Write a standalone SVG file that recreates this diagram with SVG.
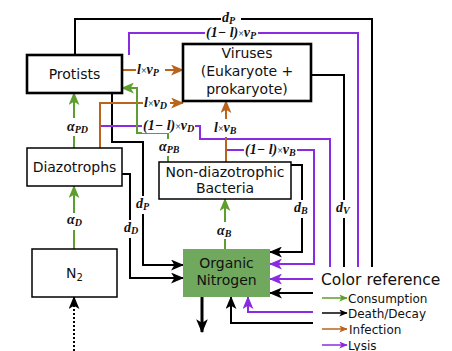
<svg xmlns="http://www.w3.org/2000/svg" width="452" height="351" viewBox="0 0 452 351">
<style>
.box{fill:#fff;stroke:#000;stroke-width:1.5}
.thick{stroke-width:2.6}
.t{font-family:"DejaVu Sans",sans-serif;font-size:14px;text-anchor:middle;fill:#111}
.c{fill:none;stroke-width:2}
.k{stroke:#000}
.p{stroke:#8a2be2}
.o{stroke:#b8641c}
.g{stroke:#5e9e2e}
.m{font-family:"Liberation Serif","DejaVu Serif",serif;font-weight:bold;font-style:italic;font-size:14px;fill:#111}
.s{font-size:10px}
.x{font-style:normal;font-weight:normal;font-size:10px}
.bg{fill:#fff}
.lg{font-family:"DejaVu Sans",sans-serif;font-size:12px;fill:#111}
</style>
<defs>
<marker id="ak" viewBox="0 0 12 10" refX="11" refY="5" markerWidth="13" markerHeight="11" markerUnits="userSpaceOnUse" orient="auto"><path d="M0,0 L12,5 L0,10 L3,5 z" fill="#000"/></marker>
<marker id="ap" viewBox="0 0 12 10" refX="11" refY="5" markerWidth="13" markerHeight="11" markerUnits="userSpaceOnUse" orient="auto"><path d="M0,0 L12,5 L0,10 L3,5 z" fill="#8a2be2"/></marker>
<marker id="ao" viewBox="0 0 12 10" refX="11" refY="5" markerWidth="13" markerHeight="11" markerUnits="userSpaceOnUse" orient="auto"><path d="M0,0 L12,5 L0,10 L3,5 z" fill="#b8641c"/></marker>
<marker id="ag" viewBox="0 0 12 10" refX="11" refY="5" markerWidth="13" markerHeight="11" markerUnits="userSpaceOnUse" orient="auto"><path d="M0,0 L12,5 L0,10 L3,5 z" fill="#5e9e2e"/></marker>
<marker id="abig" viewBox="0 0 12 10" refX="11" refY="5" markerWidth="14" markerHeight="14" markerUnits="userSpaceOnUse" orient="auto"><path d="M0,0 L12,5 L0,10 L3,5 z" fill="#000"/></marker>
<marker id="lk" viewBox="0 0 12 10" refX="11" refY="5" markerWidth="9" markerHeight="7" markerUnits="userSpaceOnUse" orient="auto"><path d="M0,0 L12,5 L0,10 L3,5 z" fill="#000"/></marker>
<marker id="lp" viewBox="0 0 12 10" refX="11" refY="5" markerWidth="9" markerHeight="7" markerUnits="userSpaceOnUse" orient="auto"><path d="M0,0 L12,5 L0,10 L3,5 z" fill="#8a2be2"/></marker>
<marker id="lo" viewBox="0 0 12 10" refX="11" refY="5" markerWidth="9" markerHeight="7" markerUnits="userSpaceOnUse" orient="auto"><path d="M0,0 L12,5 L0,10 L3,5 z" fill="#b8641c"/></marker>
<marker id="lg" viewBox="0 0 12 10" refX="11" refY="5" markerWidth="9" markerHeight="7" markerUnits="userSpaceOnUse" orient="auto"><path d="M0,0 L12,5 L0,10 L3,5 z" fill="#5e9e2e"/></marker>
</defs>
<rect width="452" height="351" fill="#fff"/>

<g id="connectors">
  <!-- black death/decay -->
  <path class="c k" d="M75,55 V19 H372 V267"/>
  <path class="c k" d="M311,75 H344 V267"/>
  <path class="c k" d="M112,93 V142 H143 V265 H183" marker-end="url(#ak)"/>
  <path class="c k" d="M122,174 H130 V278 H183" marker-end="url(#ak)"/>
  <path class="c k" d="M291,165 H302 V252 H270" marker-end="url(#ak)"/>
  <path class="c k" d="M313,293 H270" marker-end="url(#ak)"/>
  <path class="c k" d="M313,323 H231 V297" marker-end="url(#ak)"/>
  <path class="c k" d="M202,297 V332" style="stroke-width:3" marker-end="url(#abig)"/>
  <path class="c k" d="M74,351 V297" style="stroke-dasharray:2,2" marker-end="url(#ak)"/>
  <!-- purple lysis -->
  <path class="c p" d="M129,55 V33 H358 V267"/>
  <path class="c p" d="M101,126 H200 V139 H330 V267"/>
  <path class="c p" d="M226,150 H314 V264 H270" marker-end="url(#ap)"/>
  <path class="c p" d="M313,279 H270" marker-end="url(#ap)"/>
  <path class="c p" d="M313,312 H248 V297" marker-end="url(#ap)"/>
  <!-- orange infection -->
  <path class="c o" d="M122,70 H183" marker-end="url(#ao)"/>
  <path class="c o" d="M100,148 V103 H183" marker-end="url(#ao)"/>
  <path class="c o" d="M226,162 V101" marker-end="url(#ao)"/>
  <!-- green consumption -->
  <path class="c g" d="M74,249 V186" marker-end="url(#ag)"/>
  <path class="c g" d="M74,148 V93" marker-end="url(#ag)"/>
  <path class="c g" d="M168,162 V133 H137 V88 H122" marker-end="url(#ag)"/>
  <path class="c g" d="M225,249 V199" marker-end="url(#ag)"/>

  <!-- labels -->
  <rect class="bg" x="221" y="11" width="20" height="16"/>
  <text class="m" x="222" y="22">d<tspan class="s" dy="2">P</tspan></text>
  <rect class="bg" x="205" y="26" width="53" height="14"/>
  <text class="m" x="206" y="37">(1− l)<tspan class="x">×</tspan>v<tspan class="s" dy="2">P</tspan></text>
  <rect class="bg" x="136" y="62" width="29" height="16"/>
  <text class="m" x="137" y="74">l<tspan class="x">×</tspan>v<tspan class="s" dy="2">P</tspan></text>
  <rect class="bg" x="143" y="95" width="27" height="16"/>
  <text class="m" x="144" y="107">l<tspan class="x">×</tspan>v<tspan class="s" dy="2">D</tspan></text>
  <rect class="bg" x="142" y="119" width="53" height="14"/>
  <text class="m" x="143" y="130">(1− l)<tspan class="x">×</tspan>v<tspan class="s" dy="2">D</tspan></text>
  <rect class="bg" x="213" y="119" width="26" height="18"/>
  <text class="m" x="214" y="132">l<tspan class="x">×</tspan>v<tspan class="s" dy="2">B</tspan></text>
  <rect class="bg" x="244" y="143" width="53" height="14"/>
  <text class="m" x="245" y="154">(1− l)<tspan class="x">×</tspan>v<tspan class="s" dy="2">B</tspan></text>
  <rect class="bg" x="66" y="118" width="25" height="18"/>
  <text class="m" x="67" y="131">α<tspan class="s" dy="2">PD</tspan></text>
  <rect class="bg" x="158" y="139" width="24" height="17"/>
  <text class="m" x="159" y="151">α<tspan class="s" dy="2">PB</tspan></text>
  <rect class="bg" x="66" y="213" width="19" height="17"/>
  <text class="m" x="67" y="224">α<tspan class="s" dy="2">D</tspan></text>
  <rect class="bg" x="216" y="222" width="19" height="17"/>
  <text class="m" x="217" y="235">α<tspan class="s" dy="2">B</tspan></text>
  <rect class="bg" x="135" y="196" width="17" height="18"/>
  <text class="m" x="136" y="208">d<tspan class="s" dy="2">P</tspan></text>
  <rect class="bg" x="123" y="220" width="17" height="18"/>
  <text class="m" x="124" y="232">d<tspan class="s" dy="2">D</tspan></text>
  <rect class="bg" x="293" y="200" width="17" height="18"/>
  <text class="m" x="294" y="212">d<tspan class="s" dy="2">B</tspan></text>
  <rect class="bg" x="335" y="200" width="18" height="18"/>
  <text class="m" x="336" y="212">d<tspan class="s" dy="2">V</tspan></text>
</g>

<g id="protists">
  <rect class="box thick" x="27" y="55" width="95" height="38"/>
  <text class="t" x="74.5" y="79">Protists</text>
</g>
<g id="viruses">
  <rect class="box thick" x="183" y="44" width="128" height="57"/>
  <text class="t" x="247" y="58">Viruses</text>
  <text class="t" x="247" y="76">(Eukaryote +</text>
  <text class="t" x="247" y="94">prokaryote)</text>
</g>
<g id="diazotrophs">
  <rect class="box" x="27" y="148" width="95" height="38"/>
  <text class="t" x="74.5" y="172">Diazotrophs</text>
</g>
<g id="bacteria">
  <rect class="box" x="159" y="162" width="132" height="37"/>
  <text class="t" x="225" y="177">Non-diazotrophic</text>
  <text class="t" x="225" y="193">Bacteria</text>
</g>
<g id="n2">
  <rect class="box" x="32" y="249" width="85" height="48"/>
  <text class="t" x="74.5" y="278">N<tspan style="font-size:10px" dy="3">2</tspan></text>
</g>
<g id="organic-nitrogen">
  <rect x="183" y="249" width="87" height="48" fill="#70a85e"/>
  <text class="t" x="226.5" y="268">Organic</text>
  <text class="t" x="226.5" y="285">Nitrogen</text>
</g>

<g id="legend">
  <text x="321" y="285" style="font-family:'DejaVu Sans',sans-serif;font-size:15.5px;fill:#111">Color reference</text>
  <path class="g" d="M322,298 H347" style="stroke-width:1.5" marker-end="url(#lg)"/>
  <text class="lg" x="348" y="302.5">Consumption</text>
  <path class="k" d="M322,313 H347" style="stroke-width:1.5" marker-end="url(#lk)"/>
  <text class="lg" x="348" y="317.5">Death/Decay</text>
  <path class="o" d="M322,329 H347" style="stroke-width:1.5" marker-end="url(#lo)"/>
  <text class="lg" x="349" y="333.5">Infection</text>
  <path class="p" d="M322,345 H347" style="stroke-width:1.5" marker-end="url(#lp)"/>
  <text class="lg" x="348" y="349.5">Lysis</text>
</g>
</svg>
